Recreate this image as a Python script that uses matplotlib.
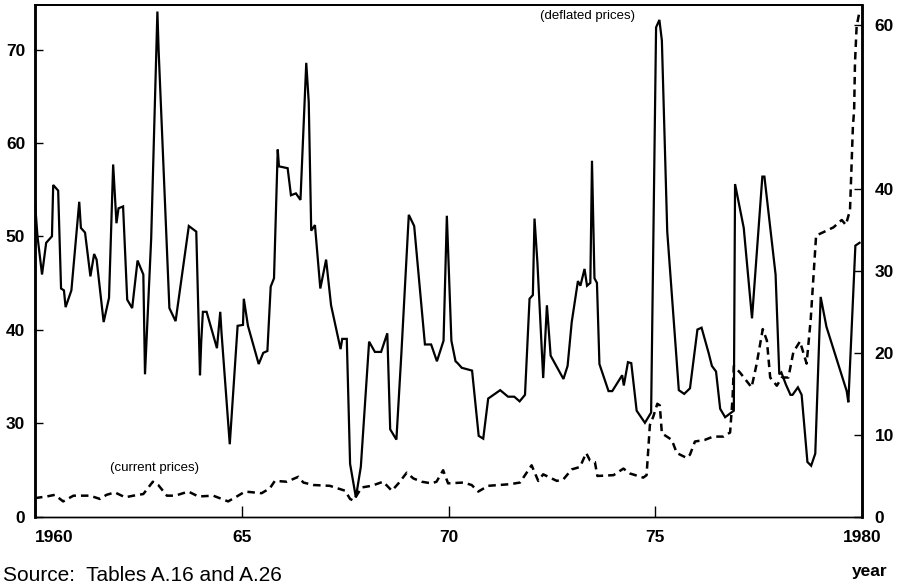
import matplotlib
matplotlib.use("Agg")
import matplotlib.pyplot as plt

# ---- data ----
defl_years = [1960.00, 1960.06, 1960.17, 1960.27, 1960.41, 1960.44, 1960.56, 1960.63, 1960.70, 1960.74,
              1960.88, 1961.07, 1961.11, 1961.21, 1961.34, 1961.43, 1961.49, 1961.66, 1961.79, 1961.89,
              1961.97, 1962.02, 1962.13, 1962.23, 1962.35, 1962.48, 1962.62, 1962.66, 1962.81, 1962.96,
              1962.99, 1963.25, 1963.40, 1963.72, 1963.90, 1963.99, 1964.02, 1964.06, 1964.15, 1964.40,
              1964.48, 1964.51, 1964.71, 1964.90, 1965.03, 1965.05, 1965.15, 1965.41, 1965.52, 1965.62,
              1965.70, 1965.78, 1965.87, 1965.90, 1966.11, 1966.19, 1966.31, 1966.42, 1966.56, 1966.62,
              1966.68, 1966.77, 1966.90, 1967.04, 1967.16, 1967.39, 1967.43, 1967.54, 1967.62, 1967.76,
              1967.88, 1968.08, 1968.22, 1968.37, 1968.52, 1968.59, 1968.74, 1968.86, 1969.04, 1969.17,
              1969.43, 1969.58, 1969.72, 1969.88, 1969.96, 1970.07, 1970.17, 1970.22, 1970.32, 1970.57,
              1970.73, 1970.84, 1970.96, 1971.25, 1971.44, 1971.59, 1971.72, 1971.85, 1971.96, 1972.04,
              1972.08, 1972.15, 1972.29, 1972.38, 1972.47, 1972.78, 1972.88, 1972.98, 1973.13, 1973.19,
              1973.29, 1973.35, 1973.43, 1973.47, 1973.53, 1973.59, 1973.65, 1973.87, 1973.96, 1974.20,
              1974.24, 1974.34, 1974.42, 1974.55, 1974.75, 1974.90, 1975.02, 1975.10, 1975.16, 1975.29,
              1975.57, 1975.70, 1975.84, 1976.02, 1976.12, 1976.29, 1976.37, 1976.47, 1976.57, 1976.69,
              1976.90, 1976.93, 1977.14, 1977.34, 1977.59, 1977.64, 1977.91, 1978.00, 1978.05, 1978.16,
              1978.27, 1978.32, 1978.45, 1978.54, 1978.68, 1978.77, 1978.87, 1979.00, 1979.14, 1979.63,
              1979.67, 1979.84, 1979.94]
defl_values = [53.6, 50.0, 45.9, 49.3, 50.0, 55.5, 54.9, 44.4, 44.2, 42.4,
               44.2, 53.7, 50.9, 50.4, 45.7, 48.1, 47.5, 40.8, 43.4, 57.7,
               51.4, 53.0, 53.2, 43.2, 42.3, 47.4, 45.9, 35.2, 49.8, 74.1,
               69.9, 42.3, 40.9, 51.1, 50.5, 35.1, 38.7, 41.9, 41.9, 38.0,
               41.9, 39.7, 27.7, 40.4, 40.5, 43.3, 40.4, 36.3, 37.5, 37.7,
               44.6, 45.5, 59.3, 57.5, 57.3, 54.4, 54.6, 53.9, 68.6, 64.4,
               50.6, 51.2, 44.4, 47.5, 42.6, 37.9, 39.0, 39.0, 25.6, 22.0,
               25.3, 38.7, 37.6, 37.6, 39.6, 29.3, 28.2, 37.4, 52.3, 51.1,
               38.4, 38.4, 36.6, 38.8, 52.2, 38.8, 36.6, 36.4, 35.9, 35.6,
               28.6, 28.3, 32.6, 33.5, 32.8, 32.8, 32.3, 33.0, 43.3, 43.7,
               51.9, 47.2, 34.8, 42.6, 37.2, 34.7, 36.1, 40.8, 45.2, 44.7,
               46.5, 44.7, 45.0, 58.1, 45.5, 45.0, 36.3, 33.4, 33.4, 35.1,
               34.0, 36.5, 36.4, 31.3, 30.0, 31.1, 72.4, 73.2, 71.0, 50.5,
               33.5, 33.1, 33.7, 40.0, 40.2, 37.5, 36.1, 35.5, 31.5, 30.6,
               31.3, 55.6, 50.9, 41.2, 56.4, 56.4, 45.9, 35.2, 35.4, 34.1,
               33.0, 33.0, 33.8, 33.0, 25.8, 25.4, 26.7, 43.5, 40.3, 33.4,
               32.2, 49.0, 49.3]

curr_years = [1960.00, 1960.28, 1960.48, 1960.68, 1960.93, 1961.33, 1961.57, 1961.73, 1961.93, 1962.18,
              1962.38, 1962.62, 1962.85, 1962.98, 1963.19, 1963.39, 1963.71, 1963.95, 1964.31, 1964.67,
              1964.88, 1965.08, 1965.48, 1965.68, 1965.80, 1966.09, 1966.37, 1966.49, 1966.73, 1967.13,
              1967.50, 1967.62, 1967.70, 1967.90, 1968.14, 1968.42, 1968.63, 1968.79, 1968.99, 1969.15,
              1969.35, 1969.59, 1969.71, 1969.87, 1969.99, 1970.36, 1970.56, 1970.72, 1970.96, 1971.49,
              1971.73, 1972.01, 1972.17, 1972.29, 1972.62, 1972.78, 1972.98, 1973.18, 1973.33, 1973.42,
              1973.54, 1973.60, 1973.99, 1974.23, 1974.39, 1974.71, 1974.79, 1974.87, 1974.95, 1975.05,
              1975.11, 1975.16, 1975.40, 1975.52, 1975.76, 1975.84, 1975.96, 1976.20, 1976.40, 1976.65,
              1976.81, 1976.87, 1976.90, 1977.05, 1977.33, 1977.45, 1977.60, 1977.70, 1977.78, 1977.94,
              1978.06, 1978.22, 1978.34, 1978.50, 1978.66, 1978.76, 1978.89, 1979.06, 1979.31, 1979.51,
              1979.61, 1979.71, 1979.78, 1979.81, 1979.83, 1979.87, 1979.94]
curr_values = [2.3, 2.5, 2.7, 1.9, 2.6, 2.6, 2.2, 2.7, 3.0, 2.4,
               2.6, 2.8, 4.3, 3.9, 2.6, 2.6, 3.1, 2.5, 2.6, 1.9,
               2.5, 3.1, 2.9, 3.5, 4.4, 4.3, 4.9, 4.2, 3.9, 3.8,
               3.2, 2.2, 2.0, 3.6, 3.8, 4.3, 3.2, 4.1, 5.4, 4.7,
               4.3, 4.1, 4.3, 5.7, 4.1, 4.2, 3.9, 3.1, 3.8, 4.0,
               4.2, 6.3, 4.4, 5.2, 4.4, 4.6, 5.8, 6.1, 7.8, 6.9,
               6.7, 5.0, 5.1, 5.9, 5.3, 4.8, 5.1, 11.2, 12.2, 13.8,
               13.6, 10.2, 9.4, 7.8, 7.2, 7.6, 9.2, 9.4, 9.8, 9.8,
               10.3, 14.5, 18.4, 17.6, 15.8, 18.6, 22.9, 21.5, 17.0, 16.0,
               17.0, 17.0, 20.1, 21.4, 18.7, 24.1, 34.3, 34.7, 35.3, 36.2,
               35.6, 37.4, 47.6, 49.6, 55.3, 59.8, 61.6]

x_ticks = [1960, 1965, 1970, 1975, 1980]
x_tick_labels = ["1960", "65", "70", "75", "1980"]
left_ticks = [19.9, 30, 40, 50, 60, 70]
left_tick_labels = ["0", "30", "40", "50", "60", "70"]
right_ticks = [0, 10, 20, 30, 40, 60]
right_tick_labels = ["0", "10", "20", "30", "40", "60"]

plt.rcParams['font.family'] = ['Liberation Sans', 'DejaVu Sans']

fig = plt.figure(figsize=(9.0, 5.86), dpi=100)
ax = fig.add_axes([35 / 900, 69 / 586, 827 / 900, 512 / 586])
ax2 = ax.twinx()

ax.plot(defl_years, defl_values, color='black', lw=1.6, solid_joinstyle='miter')
ax2.plot(curr_years, curr_values, color='black', lw=1.8, linestyle=(0, (3, 2)))

ax.set_xlim(1960, 1980)
ax.set_ylim(19.9, 74.8)
ax2.set_ylim(0, 62.4)

ax.set_xticks(x_ticks)
ax.set_xticklabels(x_tick_labels, fontsize=12.5, fontweight='bold')
ax.get_xticklabels()[0].set_ha('left')
ax.set_yticks(left_ticks)
ax.set_yticklabels(left_tick_labels, fontsize=12.5, fontweight='bold')
ax2.set_yticks(right_ticks)
ax2.set_yticklabels(right_tick_labels, fontsize=12.5, fontweight='bold')

ax.tick_params(axis='x', direction='in', length=8, width=1.0, pad=9)
ax.tick_params(axis='y', direction='in', length=6, width=1.0, pad=7)
ax2.tick_params(axis='y', direction='in', length=6, width=1.0, pad=9)

for a in (ax, ax2):
    a.spines['left'].set_linewidth(1.8)
    a.spines['right'].set_linewidth(1.8)
    a.spines['top'].set_linewidth(1.3)
    a.spines['bottom'].set_linewidth(1.0)

ax2.text(1973.35, 61.0, "(deflated prices)", fontsize=9.5, ha='center', va='center')
ax2.text(1962.9, 6.0, "(current prices)", fontsize=9.5, ha='center', va='center')

fig.text(3 / 900, 1.0 / 586, "Source:  Tables A.16 and A.26", fontsize=15, ha='left', va='bottom')
fig.text(870 / 900, 0.024, "year", fontsize=12.5, fontweight='bold', ha='center', va='center')

fig.savefig("out.png", dpi=100)
